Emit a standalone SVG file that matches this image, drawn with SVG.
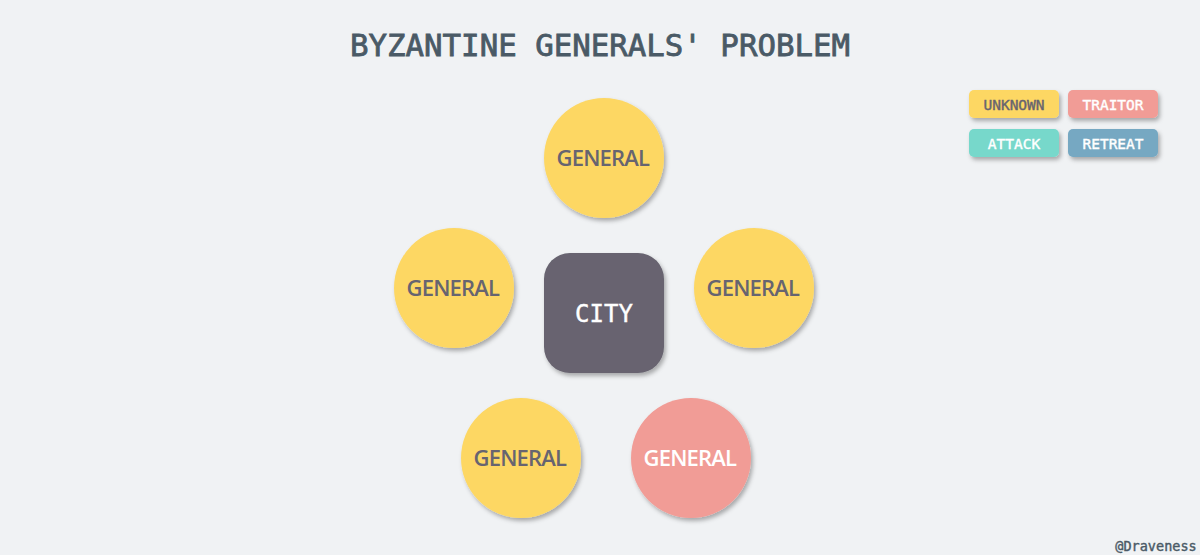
<svg xmlns="http://www.w3.org/2000/svg" width="1200" height="555" viewBox="0 0 1200 555">
<defs>
<filter id="sh" x="-20%" y="-20%" width="150%" height="150%">
<feDropShadow dx="2" dy="3" stdDeviation="2" flood-color="#000" flood-opacity="0.3"/>
</filter>
<style>
.gen{font-family:"Open Sans","Noto Sans",sans-serif;font-size:22px;font-weight:600;text-anchor:middle;letter-spacing:1.5px}
.mono{font-family:"DejaVu Sans Mono","Liberation Mono",monospace;text-anchor:middle}
.leg{font-family:"DejaVu Sans Mono","Liberation Mono",monospace;font-size:14.5px;font-weight:normal;text-anchor:middle;stroke-width:0.4px}
.y{fill:#FDD764}
.p{fill:#F19C96}
</style>
</defs>
<rect width="1200" height="555" fill="#F0F2F4"/>
<text class="mono" x="600" y="56" font-size="30" fill="#4A5A66" stroke="#4A5A66" stroke-width="0.8" textLength="500" lengthAdjust="spacingAndGlyphs">BYZANTINE GENERALS' PROBLEM</text>
<g id="connectors"></g>
<g id="city">
<rect x="544" y="253" width="120" height="120" rx="26" fill="#67646F" filter="url(#sh)"/>
<text class="mono" x="604" y="322" font-size="24" fill="#FFFFFF" stroke="#FFFFFF" stroke-width="0.4" textLength="58">CITY</text>
</g>
<g id="general-top">
<circle cx="604" cy="158" r="60" class="y" filter="url(#sh)"/>
<text class="gen" x="604" y="166" fill="#676470" textLength="95">GENERAL</text>
</g>
<g id="general-left">
<circle cx="454" cy="288" r="60" class="y" filter="url(#sh)"/>
<text class="gen" x="454" y="296" fill="#676470" textLength="95">GENERAL</text>
</g>
<g id="general-right">
<circle cx="754" cy="288" r="60" class="y" filter="url(#sh)"/>
<text class="gen" x="754" y="296" fill="#676470" textLength="95">GENERAL</text>
</g>
<g id="general-bottom-left">
<circle cx="521" cy="458" r="60" class="y" filter="url(#sh)"/>
<text class="gen" x="521" y="466" fill="#676470" textLength="95">GENERAL</text>
</g>
<g id="general-bottom-right">
<circle cx="691" cy="458" r="60" class="p" filter="url(#sh)"/>
<text class="gen" x="691" y="466" fill="#FFFFFF" textLength="95">GENERAL</text>
</g>
<g id="legend-unknown">
<rect x="969" y="90" width="90" height="28" rx="5" fill="#FDD764" filter="url(#sh)"/>
<text class="leg" x="1014" y="110" fill="#676470" stroke="#676470">UNKNOWN</text>
</g>
<g id="legend-traitor">
<rect x="1068" y="90" width="90" height="28" rx="5" fill="#F19C96" filter="url(#sh)"/>
<text class="leg" x="1113" y="110" fill="#FFFFFF" stroke="#FFFFFF">TRAITOR</text>
</g>
<g id="legend-attack">
<rect x="969" y="129" width="90" height="28" rx="5" fill="#77D8CB" filter="url(#sh)"/>
<text class="leg" x="1014" y="149" fill="#FFFFFF" stroke="#FFFFFF">ATTACK</text>
</g>
<g id="legend-retreat">
<rect x="1068" y="129" width="90" height="28" rx="5" fill="#76A8C2" filter="url(#sh)"/>
<text class="leg" x="1113" y="149" fill="#FFFFFF" stroke="#FFFFFF">RETREAT</text>
</g>
<text class="mono" x="1156" y="551" font-size="13.5" fill="#4A5A66" stroke="#4A5A66" stroke-width="0.4">@Draveness</text>
</svg>
